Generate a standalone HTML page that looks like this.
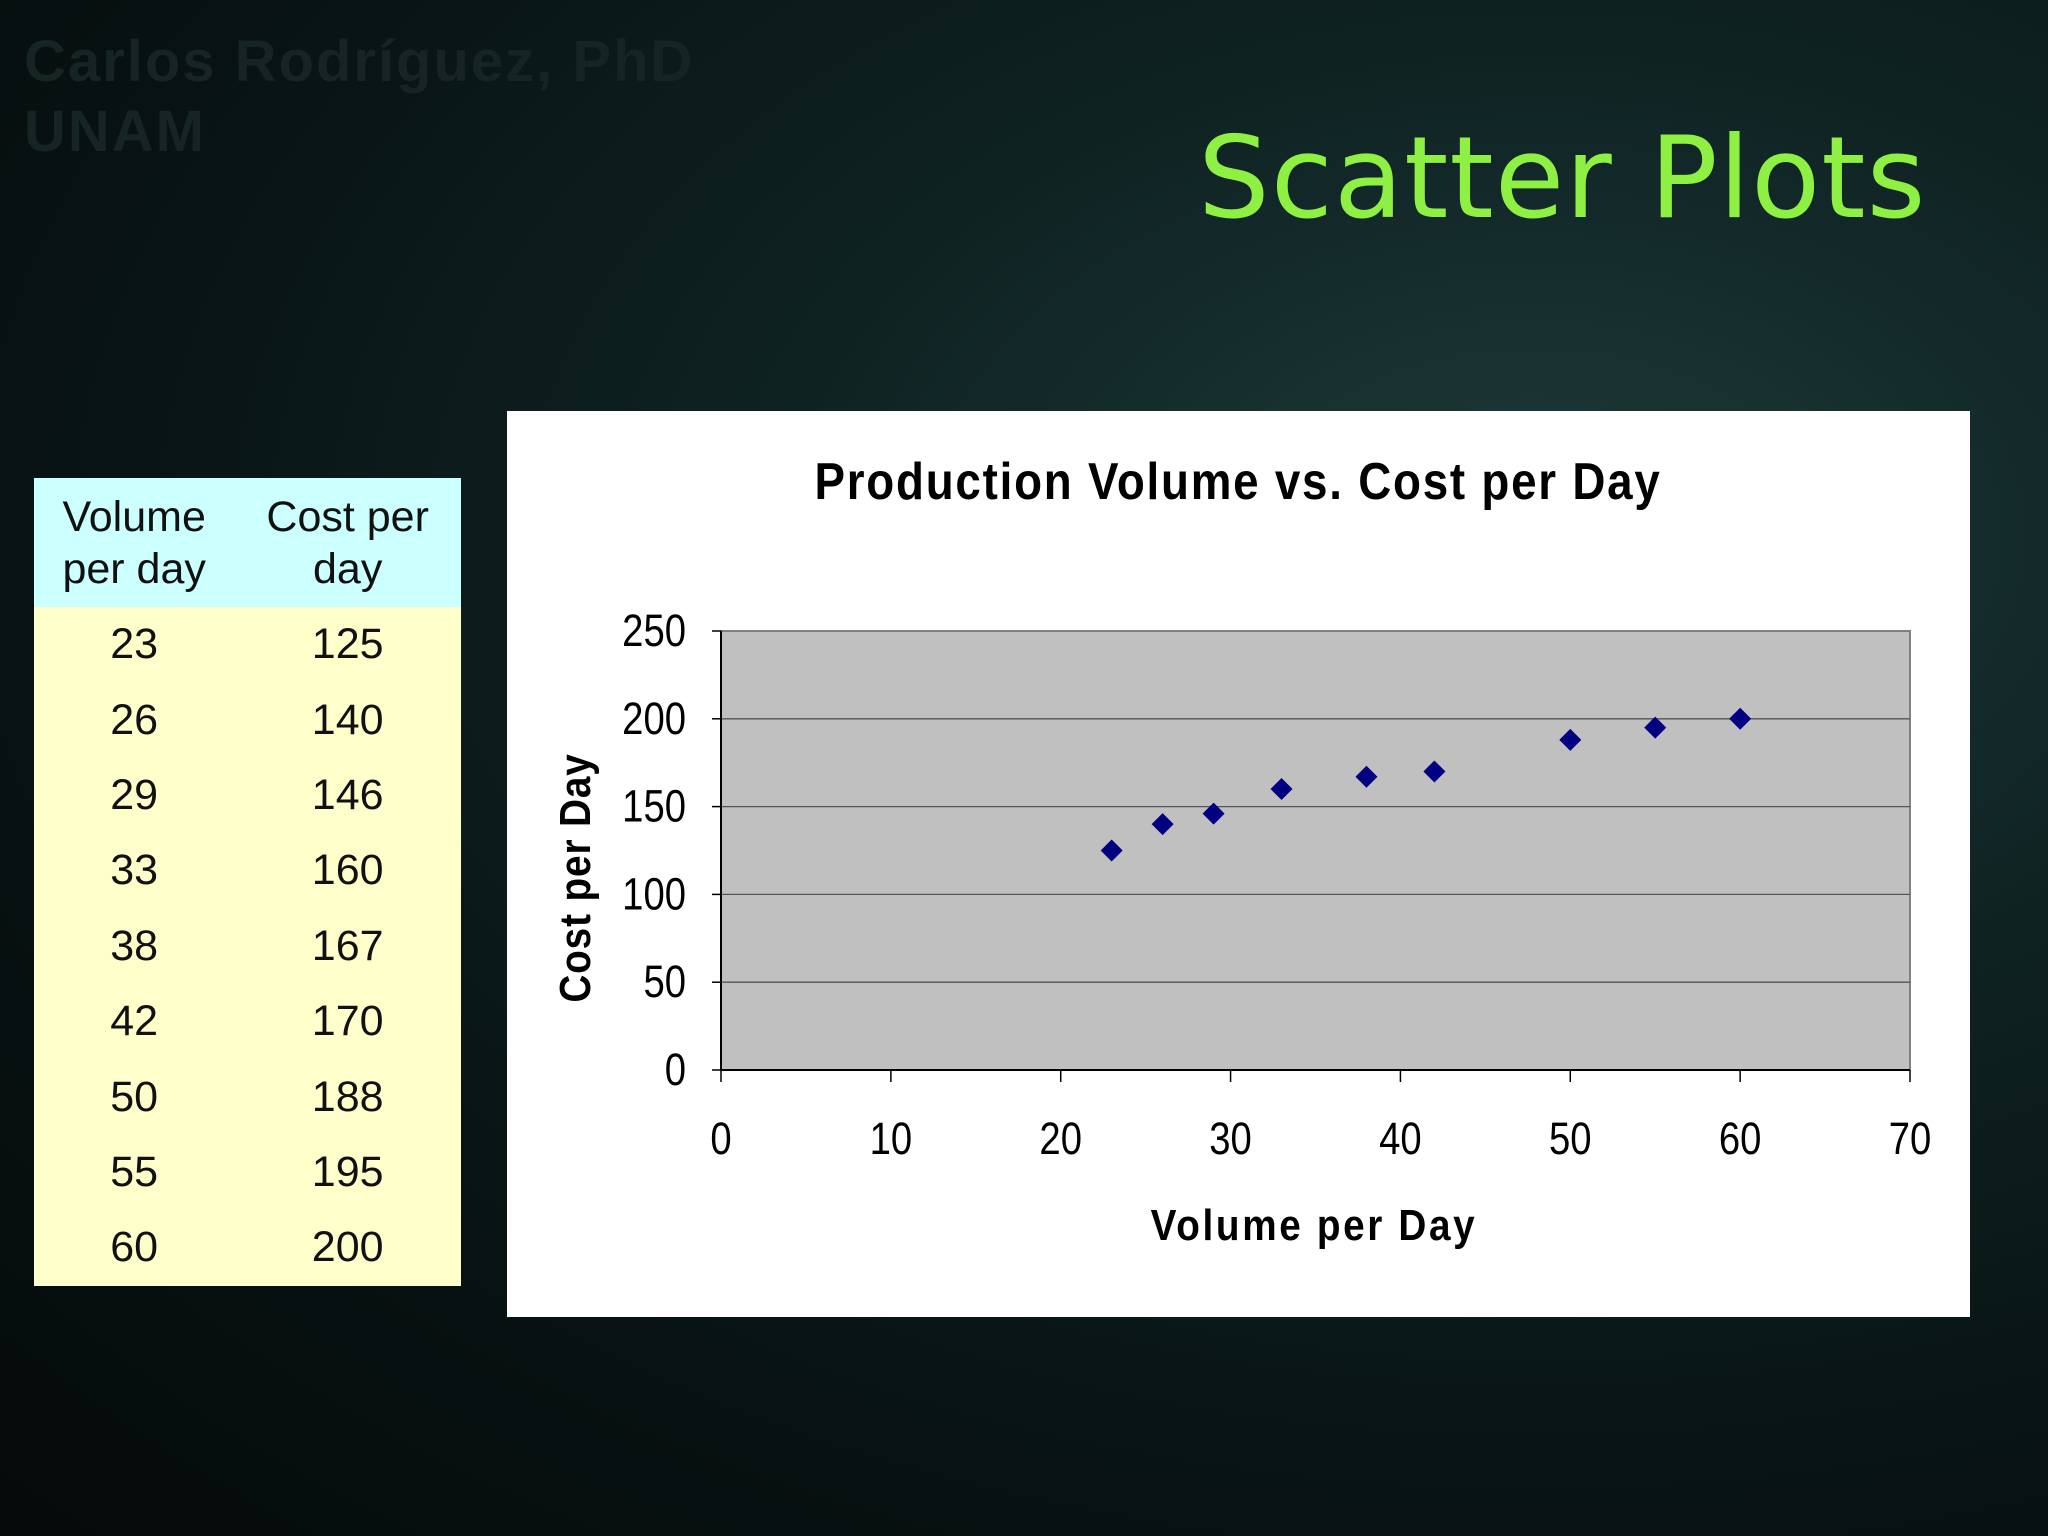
<!DOCTYPE html>
<html><head><meta charset="utf-8">
<style>
html,body{margin:0;padding:0;}
body{width:2048px;height:1536px;position:relative;overflow:hidden;font-family:"Liberation Sans",sans-serif;
background:radial-gradient(ellipse at 75% 35%,#1d3a3a 0%,#0f2222 35%,#081212 70%,#050a0a 100%);}
.wm{position:absolute;left:24px;color:#162424;font-weight:bold;font-size:58px;letter-spacing:2px;}
#title{position:absolute;left:1198px;top:112px;font-size:113px;color:#8ef042;font-family:"DejaVu Sans","Liberation Sans",sans-serif;letter-spacing:1px;}
table{position:absolute;left:34px;top:478px;width:427px;border-collapse:collapse;font-size:43px;color:#111;}
th{background:#ccffff;font-weight:normal;height:127px;line-height:52px;}
td{background:#ffffcc;text-align:center;height:75.4px;padding:0;}
#chartbox{position:absolute;left:507px;top:411px;width:1463px;height:906px;background:#fff;}
</style></head><body>
<div class="wm" style="top:28px">Carlos Rodríguez, PhD</div>
<div class="wm" style="top:98px">UNAM</div>
<div id="title">Scatter Plots</div>
<table>
<tr><th>Volume<br>per day</th><th>Cost per<br>day</th></tr>
<tr><td>23</td><td>125</td></tr><tr><td>26</td><td>140</td></tr><tr><td>29</td><td>146</td></tr>
<tr><td>33</td><td>160</td></tr><tr><td>38</td><td>167</td></tr><tr><td>42</td><td>170</td></tr>
<tr><td>50</td><td>188</td></tr><tr><td>55</td><td>195</td></tr><tr><td>60</td><td>200</td></tr>
</table>
<div id="chartbox"></div>
<svg id="chart" width="2048" height="1536" style="position:absolute;left:0;top:0"></svg>
<script>
const xVals=[23,26,29,33,38,42,50,55,60];
const yVals=[125,140,146,160,167,170,188,195,200];
const xTicks=[0,10,20,30,40,50,60,70];
const yTicks=[0,50,100,150,200,250];
const svg=document.getElementById('chart');
const NS='http://www.w3.org/2000/svg';
const L=721,R=1910,T=631,B=1070;
const sx=v=>L+(v-0)/70*(R-L);
const sy=v=>B-(v-0)/250*(B-T);
function mk(tag,attrs,parent){const e=document.createElementNS(NS,tag);for(const k in attrs)e.setAttribute(k,attrs[k]);(parent||svg).appendChild(e);return e;}
const plot=mk('rect',{x:L,y:T,width:R-L,height:B-T,fill:'#c0c0c0',stroke:'#808080','stroke-width':2});


yTicks.forEach(t=>{
  if(t>0&&t<250){const g=mk('line',{x1:L,x2:R,y1:sy(t),y2:sy(t),stroke:'#555','stroke-width':1.3});
  
  }
  mk('line',{x1:L-9,x2:L,y1:sy(t),y2:sy(t),stroke:'#000','stroke-width':1.5});
  const tx=mk('text',{x:686,y:sy(t)+15,'text-anchor':'end','font-size':45,fill:'#000',transform:`translate(686 0) scale(0.85 1) translate(-686 0)`});
  tx.textContent=t;
  
  
});
mk('line',{x1:L,x2:L,y1:T,y2:B,stroke:'#000','stroke-width':2});
mk('line',{x1:L,x2:R,y1:B,y2:B,stroke:'#000','stroke-width':2});
xTicks.forEach(t=>{
  mk('line',{x1:sx(t),x2:sx(t),y1:B,y2:B+12,stroke:'#000','stroke-width':1.5});
  const cx=sx(t);
  const tx=mk('text',{x:cx,y:1154,'text-anchor':'middle','font-size':45,fill:'#000',transform:`translate(${cx} 0) scale(0.85 1) translate(${-cx} 0)`});
  tx.textContent=t;
  
  
});
xVals.forEach((x,i)=>{
  const px=sx(x),py=sy(yVals[i]),s=11;
  const p=mk('polygon',{points:`${px},${py-s} ${px+s},${py} ${px},${py+s} ${px-s},${py}`,fill:'#000080'});
  
  
});
const ct=mk('text',{x:1238,y:499,'text-anchor':'middle','font-size':52,'font-weight':'bold',fill:'#000','letter-spacing':2,transform:'translate(1238 0) scale(0.88 1) translate(-1238 0)'});
ct.textContent='Production Volume vs. Cost per Day';


const xt=mk('text',{x:1314,y:1240,'text-anchor':'middle','font-size':44,'font-weight':'bold',fill:'#000','letter-spacing':3,transform:'translate(1314 0) scale(0.88 1) translate(-1314 0)'});
xt.textContent='Volume per Day';


const yt=mk('text',{x:0,y:0,'text-anchor':'middle','font-size':44,'font-weight':'bold',fill:'#000','letter-spacing':1,transform:'translate(590 878) rotate(-90) scale(0.88 1)'});
yt.textContent='Cost per Day';


</script>
</body></html>
